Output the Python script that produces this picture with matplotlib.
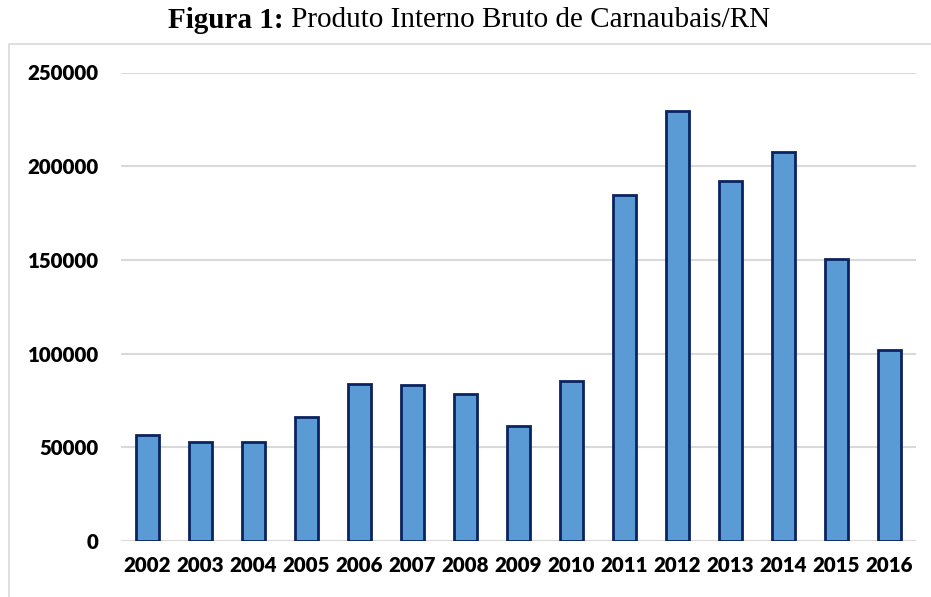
import matplotlib.pyplot as plt
from matplotlib.patches import Rectangle

# PIB anual do município (R$ mil)
anos = ["2002", "2003", "2004", "2005", "2006", "2007", "2008", "2009",
        "2010", "2011", "2012", "2013", "2014", "2015", "2016"]
pib = [56700, 52800, 52600, 66300, 83900, 83500, 78400, 61200,
       85400, 184600, 229500, 192300, 207700, 150500, 101900]
y_ticks = [0, 50000, 100000, 150000, 200000, 250000]

W, H = 931, 597
fig = plt.figure(figsize=(W / 100, H / 100), dpi=100)

# moldura cinza da área do gráfico
frame = Rectangle((8.5 / W, -0.1), 1.2, (H - 43.5) / H + 0.1,
                  transform=fig.transFigure, fill=False,
                  edgecolor="#D9D9D9", linewidth=1.2)
fig.patches.append(frame)

ax = fig.add_axes([121 / W, (H - 541) / H, 795 / W, 468.5 / H])
x = range(len(anos))
ax.bar(x, pib, width=0.42, color="#5B9BD5", edgecolor="#0B2360",
       linewidth=2.0, zorder=3)

ax.set_xlim(-0.5, len(anos) - 0.5)
ax.set_ylim(0, 250000)
ax.set_yticks(y_ticks)
ax.set_yticklabels([str(v) for v in y_ticks])
ax.set_xticks(list(x))
ax.set_xticklabels(anos)

for s in ax.spines.values():
    s.set_visible(False)
ax.yaxis.grid(True, color="#D9D9D9", linewidth=1.5, zorder=0)
ax.set_axisbelow(True)
ax.tick_params(axis="both", length=0)
ax.tick_params(axis="x", pad=11)
ax.tick_params(axis="y", pad=16)
for lab in ax.get_xticklabels() + ax.get_yticklabels():
    lab.set_fontfamily("Lato")
    lab.set_fontweight("heavy")
    lab.set_fontsize(14.8)

# título com a parte inicial em negrito
ty = 1 - 20 / H
fig.text(284 / W, ty, "Figura 1:", ha="right", va="center",
         family="Liberation Serif", weight="bold", fontsize=21)
fig.text(284 / W, ty, " Produto Interno Bruto de Carnaubais/RN", ha="left",
         va="center", family="Liberation Serif", fontsize=21)

fig.savefig("out.png", dpi=100)
